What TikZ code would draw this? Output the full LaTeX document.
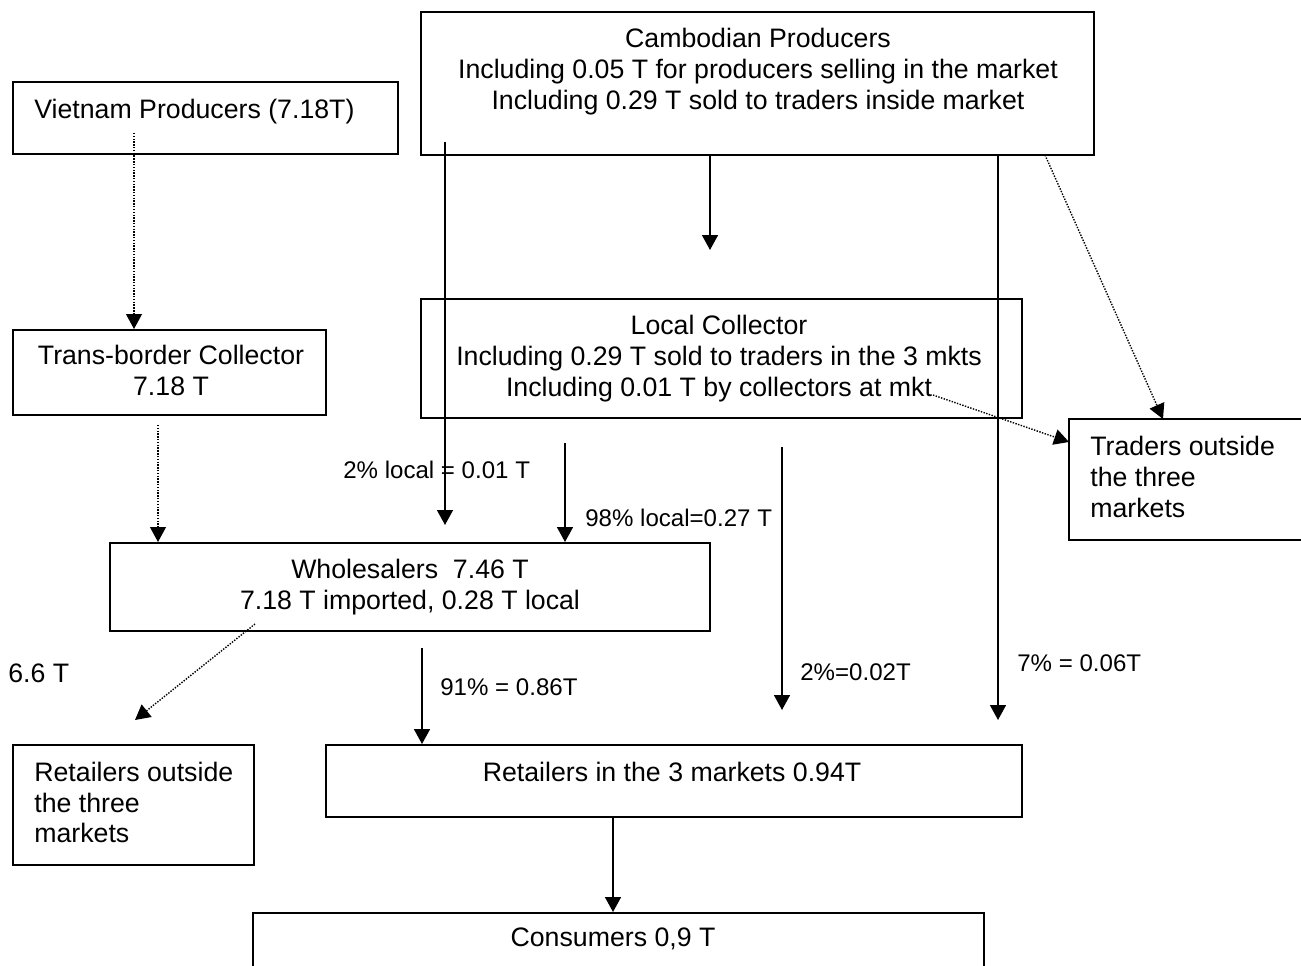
\documentclass[tikz,border=0pt]{standalone}
\usepackage{fontspec}
\setmainfont{Liberation Sans}
\usetikzlibrary{arrows.meta}
\begin{document}
\begin{tikzpicture}[x=0.02cm,y=-0.02cm,
  box/.style n args={2}{draw, line width=1.1pt, minimum width=#1*0.02cm, minimum height=#2*0.02cm, inner sep=0pt},
  txt/.style={font=\fontsize{15.2}{17.6}\selectfont, inner sep=0pt, align=center},
  ltxt/.style={font=\fontsize{15.2}{17.6}\selectfont, inner sep=0pt, align=left, anchor=west},
  lab/.style={font=\fontsize{13.7}{16}\selectfont, inner sep=0pt, anchor=west},
  arr/.style={line width=1.1pt, -{Triangle[width=9pt,length=8.5pt]}},
  dotarr/.style={line width=0.8pt, dash pattern=on 0.8pt off 0.8pt, -{Triangle[width=9pt,length=8.5pt]}}]
\useasboundingbox (0,0) rectangle (1301,966);
% boxes
\node[box={385}{72}]  (vp) at (205.5,118) {};
\node[box={673}{143}] (cp) at (757.5,83.5) {};
\node[box={313}{85}]  (tb) at (169.5,372.5) {};
\node[box={601}{119}] (lc) at (721.5,358.5) {};
\node[box={241}{121}] (tr) at (1189.5,479.5) {};
\node[box={600}{88}]  (wh) at (410,587) {};
\node[box={241}{120}] (ro) at (133.5,805) {};
\node[box={696}{72}]  (rm) at (674,781) {};
\node[box={731}{87}]  (co) at (618.5,956.5) {};
% texts
\node[ltxt] (vpt) at (34,112) {Vietnam Producers (7.18T)};
\node[txt] (cpt) at (758,71.5) {Cambodian Producers\\Including 0.05 T for producers selling in the market\\Including 0.29 T sold to traders inside market};
\node[txt] (tbt) at (171,370.5) {Trans-border Collector\\7.18 T};
\node[txt] (lct) at (719,359) {Local Collector\\Including 0.29 T sold to traders in the 3 mkts\\Including 0.01 T by collectors at mkt};
\node[ltxt] (trt) at (1090,477) {Traders outside\\the three\\markets};
\node[txt] (wht) at (410,587.5) {Wholesalers\ \ 7.46 T\\7.18 T imported, 0.28 T local};
\node[ltxt] (rot) at (34,802.5) {Retailers outside\\the three\\markets};
\node[txt] (rmt) at (672,772) {Retailers in the 3 markets 0.94T};
\node[txt] (cot) at (613,939) {Consumers 0,9 T};
% labels
\node[lab] (l1) at (343,470) {2\% local = 0.01 T};
\node[lab] (l2) at (585,518) {98\% local=0.27 T};
\node[ltxt] (l3) at (8,673) {6.6 T};
\node[lab] (l4) at (440,687) {91\% = 0.86T};
\node[lab] (l5) at (800,672) {2\%=0.02T};
\node[lab] (l6) at (1017,663) {7\% = 0.06T};
% free ends
\coordinate (a1) at (134,133);
\coordinate (a2) at (158,425);
\coordinate (a3s) at (445,142);
\coordinate (a3e) at (445,525);
\coordinate (a4e) at (710,250);
\coordinate (a5e) at (998,720);
\coordinate (a6s) at (1045,155);
\coordinate (a6e) at (1163,419);
\coordinate (a7s) at (933,395);
\coordinate (a7e) at (1069,442);
\coordinate (a8) at (565,443);
\coordinate (a9s) at (782,447);
\coordinate (a9e) at (782,710);
\coordinate (a10s) at (255,624);
\coordinate (a10e) at (135,720);
\coordinate (a11) at (422,648);
% connectors
\draw[dotarr] (a1) -- (a1 |- tb.north);
\draw[dotarr] (a2) -- (a2 |- wh.north);
\draw[arr] (a3s) -- (a3e);
\draw[arr] (a4e |- cp.south) -- (a4e);
\draw[arr] (a5e |- cp.south) -- (a5e);
\draw[dotarr] (a6s) -- (a6e);
\draw[dotarr] (a7s) -- (a7e);
\draw[arr] (a8) -- (a8 |- wh.north);
\draw[arr] (a9s) -- (a9e);
\draw[dotarr] (a10s) -- (a10e);
\draw[arr] (a11) -- (a11 |- rm.north);
\draw[arr] (cot |- rm.south) -- (cot |- co.north);
\end{tikzpicture}
\end{document}
